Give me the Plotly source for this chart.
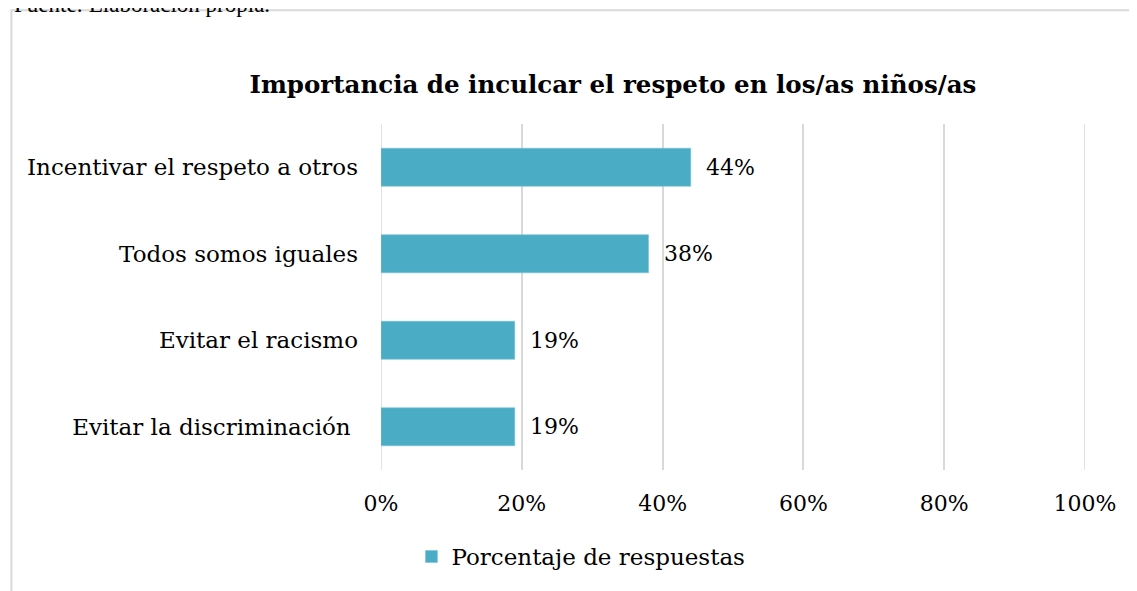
import plotly.graph_objects as go

# survey answers, shown top to bottom
categorias = [
    "Incentivar el respeto a otros",
    "Todos somos iguales",
    "Evitar el racismo",
    "Evitar la discriminación ",
]
porcentajes = [0.44, 0.38, 0.19, 0.19]
etiquetas = ["44%", "38%", "19%", "19%"]
ticks_x = [0, 0.2, 0.4, 0.6, 0.8, 1.0]
ticks_x_texto = ["0%", "20%", "40%", "60%", "80%", "100%"]

serif = "DejaVu Serif"
color_barra = "#4BACC6"
gris = "#D9D9D9"

fig = go.Figure()
fig.add_trace(go.Bar(
    x=porcentajes,
    y=categorias,
    orientation="h",
    name="Porcentaje de respuestas",
    marker=dict(color=color_barra, line=dict(color="#7CC4D6", width=0.6)),
    width=0.44,
))

# data labels just right of each bar
for val, txt, cat in zip(porcentajes, etiquetas, categorias):
    fig.add_annotation(x=val, y=cat, text=txt, showarrow=False,
                       xanchor="left", xshift=13,
                       font=dict(family=serif, size=22, color="#000000"))

# source line cut off at the very top of the capture
fig.add_annotation(xref="paper", yref="paper", x=-0.524, y=1.345,
                   text="Fuente: Elaboración propia.", showarrow=False,
                   xanchor="left", yanchor="middle",
                   font=dict(family="Liberation Serif", size=23, color="#000000"))

# chart frame (only top and left edges are inside the picture)
fig.add_shape(type="rect", xref="paper", yref="paper",
              x0=-0.525, x1=1.2, y0=-0.5, y1=1.329,
              line=dict(color=gris, width=2), layer="below")

# plotly skips gridlines sitting on the plot edges, draw those two by hand
for t in (ticks_x[0], ticks_x[-1]):
    fig.add_shape(type="line", xref="x", yref="paper", x0=t, x1=t, y0=0, y1=1,
                  line=dict(color=gris, width=1.5), layer="below")

# the page body adds 8px on the left and top, margins account for it
fig.update_layout(
    width=1137, height=591,
    margin=dict(l=373, r=60, t=116, b=129),
    paper_bgcolor="white",
    plot_bgcolor="white",
    title=dict(text="<b>Importancia de inculcar el respeto en los/as niños/as</b>",
               x=0.532, xanchor="center", y=0.871, yanchor="middle",
               font=dict(family=serif, size=24.5, color="#000000")),
    font=dict(family=serif, size=22, color="#000000"),
    showlegend=True,
    legend=dict(orientation="h", x=0.284, xanchor="center", y=-0.25, yanchor="middle",
                font=dict(family=serif, size=23, color="#000000")),
)
fig.update_xaxes(range=[0, 1], tickvals=ticks_x, ticktext=ticks_x_texto,
                 showgrid=True, gridcolor=gris, gridwidth=1.5,
                 zeroline=False, showline=False, ticklabelstandoff=18,
                 tickfont=dict(family=serif, size=22))
fig.update_yaxes(autorange="reversed", showgrid=False, zeroline=False,
                 showline=False, ticklabelstandoff=22,
                 tickfont=dict(family=serif, size=23))

fig.write_html("out.html")
